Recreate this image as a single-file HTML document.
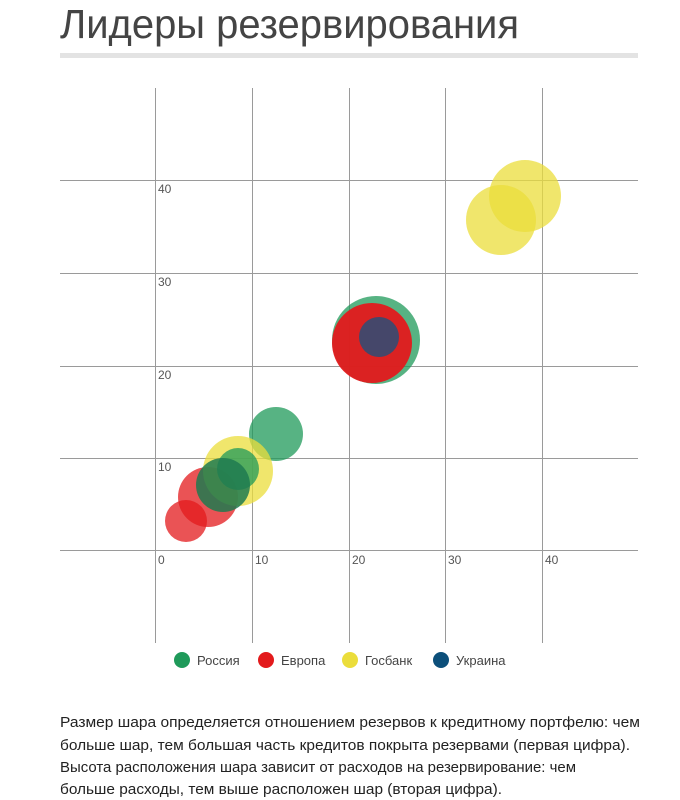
<!DOCTYPE html>
<html><head><meta charset="utf-8"><style>
html,body{margin:0;padding:0;background:#fff;width:680px;height:800px;overflow:hidden}
svg{display:block}
text{font-family:"Liberation Sans",sans-serif}
</style></head><body>
<svg width="680" height="800" viewBox="0 0 680 800">
<text x="60" y="38" font-size="41" fill="#444" textLength="459" lengthAdjust="spacingAndGlyphs">Лидеры резервирования</text>
<rect x="60" y="53" width="578" height="5" fill="#e3e3e3"/>
<g stroke="#9a9a9a" stroke-width="1">
<line x1="155.5" y1="88" x2="155.5" y2="643"/>
<line x1="252.5" y1="88" x2="252.5" y2="643"/>
<line x1="349.5" y1="88" x2="349.5" y2="643"/>
<line x1="445.5" y1="88" x2="445.5" y2="643"/>
<line x1="542.5" y1="88" x2="542.5" y2="643"/>
<line x1="60" y1="180.5" x2="638" y2="180.5"/>
<line x1="60" y1="273.5" x2="638" y2="273.5"/>
<line x1="60" y1="366.5" x2="638" y2="366.5"/>
<line x1="60" y1="458.5" x2="638" y2="458.5"/>
<line x1="60" y1="550.5" x2="638" y2="550.5"/>
</g>
<g font-size="12" fill="#555">
<text x="158" y="193">40</text><text x="158" y="286">30</text><text x="158" y="379">20</text><text x="158" y="471">10</text>
<text x="158" y="564">0</text><text x="255" y="564">10</text><text x="352" y="564">20</text><text x="448" y="564">30</text><text x="545" y="564">40</text>
</g>
<g>
<circle cx="501" cy="220" r="35" fill="#ebdd3b" opacity="0.75"/>
<circle cx="525" cy="196" r="36" fill="#ebdd3b" opacity="0.75"/>
<circle cx="376" cy="340" r="44" fill="#1f9a5a" opacity="0.75"/>
<circle cx="372" cy="343" r="40" fill="#e31a1c" opacity="0.95"/>
<circle cx="379" cy="337" r="20" fill="#45476a"/>
<circle cx="276" cy="434" r="27" fill="#1f9a5a" opacity="0.75"/>
<circle cx="186" cy="521" r="21" fill="#e31a1c" opacity="0.75"/>
<circle cx="208" cy="497" r="30" fill="#e31a1c" opacity="0.75"/>
<circle cx="238" cy="471" r="35" fill="#ebdd3b" opacity="0.75"/>
<circle cx="238" cy="469" r="21" fill="#1f9a5a" opacity="0.75"/>
<circle cx="223" cy="485" r="27" fill="#1f7a50" opacity="0.85"/>
</g>
<g font-size="13" fill="#444">
<circle cx="182" cy="660" r="8" fill="#1f9a5a"/><text x="197" y="665">Россия</text>
<circle cx="266" cy="660" r="8" fill="#e31a1c"/><text x="281" y="665">Европа</text>
<circle cx="350" cy="660" r="8" fill="#ebdd3b"/><text x="365" y="665">Госбанк</text>
<circle cx="441" cy="660" r="8" fill="#0c4f7a"/><text x="456" y="665">Украина</text>
</g>
<g font-size="15" fill="#222">
<text x="60" y="727" textLength="580" lengthAdjust="spacingAndGlyphs">Размер шара определяется отношением резервов к кредитному портфелю: чем</text>
<text x="60" y="750" textLength="570" lengthAdjust="spacingAndGlyphs">больше шар, тем большая часть кредитов покрыта резервами (первая цифра).</text>
<text x="60" y="772" textLength="516" lengthAdjust="spacingAndGlyphs">Высота расположения шара зависит от расходов на резервирование: чем</text>
<text x="60" y="794" textLength="442" lengthAdjust="spacingAndGlyphs">больше расходы, тем выше расположен шар (вторая цифра).</text>
</g>
</svg>
</body></html>
